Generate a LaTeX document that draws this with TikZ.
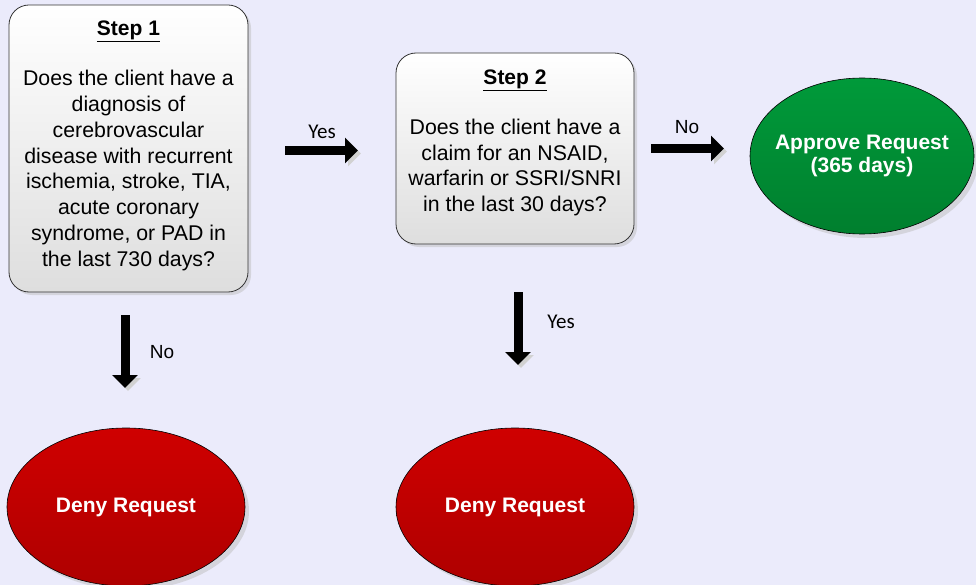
\documentclass[tikz,border=0pt]{standalone}
\usepackage{fontspec}
\setmainfont{Liberation Sans}
\newfontfamily\calib{Carlito}
\usetikzlibrary{arrows.meta,shadows,shapes.geometric}
\definecolor{bgc}{HTML}{EBEBFB}
\definecolor{redtop}{HTML}{CF0000}
\definecolor{redbot}{HTML}{AE0000}
\definecolor{grtop}{HTML}{009A3A}
\definecolor{grbot}{HTML}{007F2E}
\tikzset{
  qbox/.style={draw=black!80, line width=0.8pt, rounded corners=20pt, top color=white, bottom color=black!13,
    drop shadow={shadow xshift=3pt, shadow yshift=-3pt, fill=black!25, opacity=0.5}},
  endnode/.style={ellipse, draw=black, line width=0.6pt,
    drop shadow={shadow xshift=4pt, shadow yshift=-4pt, fill=black!25, opacity=0.5},
    text=white, font=\fontsize{21}{23.5}\selectfont\bfseries, align=center, inner sep=-20pt},
  qtext/.style={align=center, font=\fontsize{21.3}{25.8}\selectfont, inner sep=0pt},
  blockarrow/.style={line width=9pt, -{Triangle[width=25pt,length=13pt]},
    preaction={draw=black!18, transform canvas={shift={(3pt,-3pt)}}}},
  lblc/.style={font=\calib\fontsize{21}{24}\selectfont, inner sep=0pt},
  lbla/.style={font=\fontsize{19}{22}\selectfont, inner sep=0pt}
}
\begin{document}
\begin{tikzpicture}[x=1pt,y=-1pt]
\fill[bgc] (0,0) rectangle (976,585);
\useasboundingbox (0,0) rectangle (976,585);
% boxes
\node[qbox, minimum width=239pt, minimum height=287pt] (b1) at (128.5,148.5) {};
\node[qtext] (t1) at (128.5,146) {\fontsize{21}{24}\selectfont\bfseries\underline{Step 1}\\[24pt]
Does the client have a\\ diagnosis of\\ cerebrovascular\\ disease with recurrent\\ ischemia, stroke, TIA,\\ acute coronary\\ syndrome, or PAD in\\ the last 730 days?};
\node[qbox, minimum width=238pt, minimum height=191pt] (b2) at (515,148.5) {};
\node[qtext] (t2) at (515,143) {\fontsize{21}{24}\selectfont\bfseries\underline{Step 2}\\[24pt]
Does the client have a\\ claim for an NSAID,\\ warfarin or SSRI/SNRI\\ in the last 30 days?};
% ellipses
\node[endnode, top color=grtop, bottom color=grbot, minimum width=224pt, minimum height=156pt] (ap) at (862,156) {Approve Request\\(365 days)};
\node[endnode, top color=redtop, bottom color=redbot, minimum width=238pt, minimum height=158pt] (d1) at (126,507) {Deny Request};
\node[endnode, top color=redtop, bottom color=redbot, minimum width=238pt, minimum height=158pt] (d2) at (515,507) {Deny Request};
% arrows
\coordinate (a1s) at (285,150.5); \coordinate (a1e) at (358,150.5);
\coordinate (a2s) at (651,148.5); \coordinate (a2e) at (724,148.5);
\coordinate (a3s) at (125,315); \coordinate (a3e) at (125,388);
\coordinate (a4s) at (518,292); \coordinate (a4e) at (518,365);
\draw[blockarrow] (a1s) -- (a1e);
\draw[blockarrow] (a2s) -- (a2e);
\draw[blockarrow] (a3s) -- (a3e);
\draw[blockarrow] (a4s) -- (a4e);
\node[lblc] (l1) at (322,132) {Yes};
\node[lbla] (l2) at (687,127) {No};
\node[lbla] (l3) at (162,352) {No};
\node[lblc] (l4) at (561,322) {Yes};
\end{tikzpicture}
\end{document}
